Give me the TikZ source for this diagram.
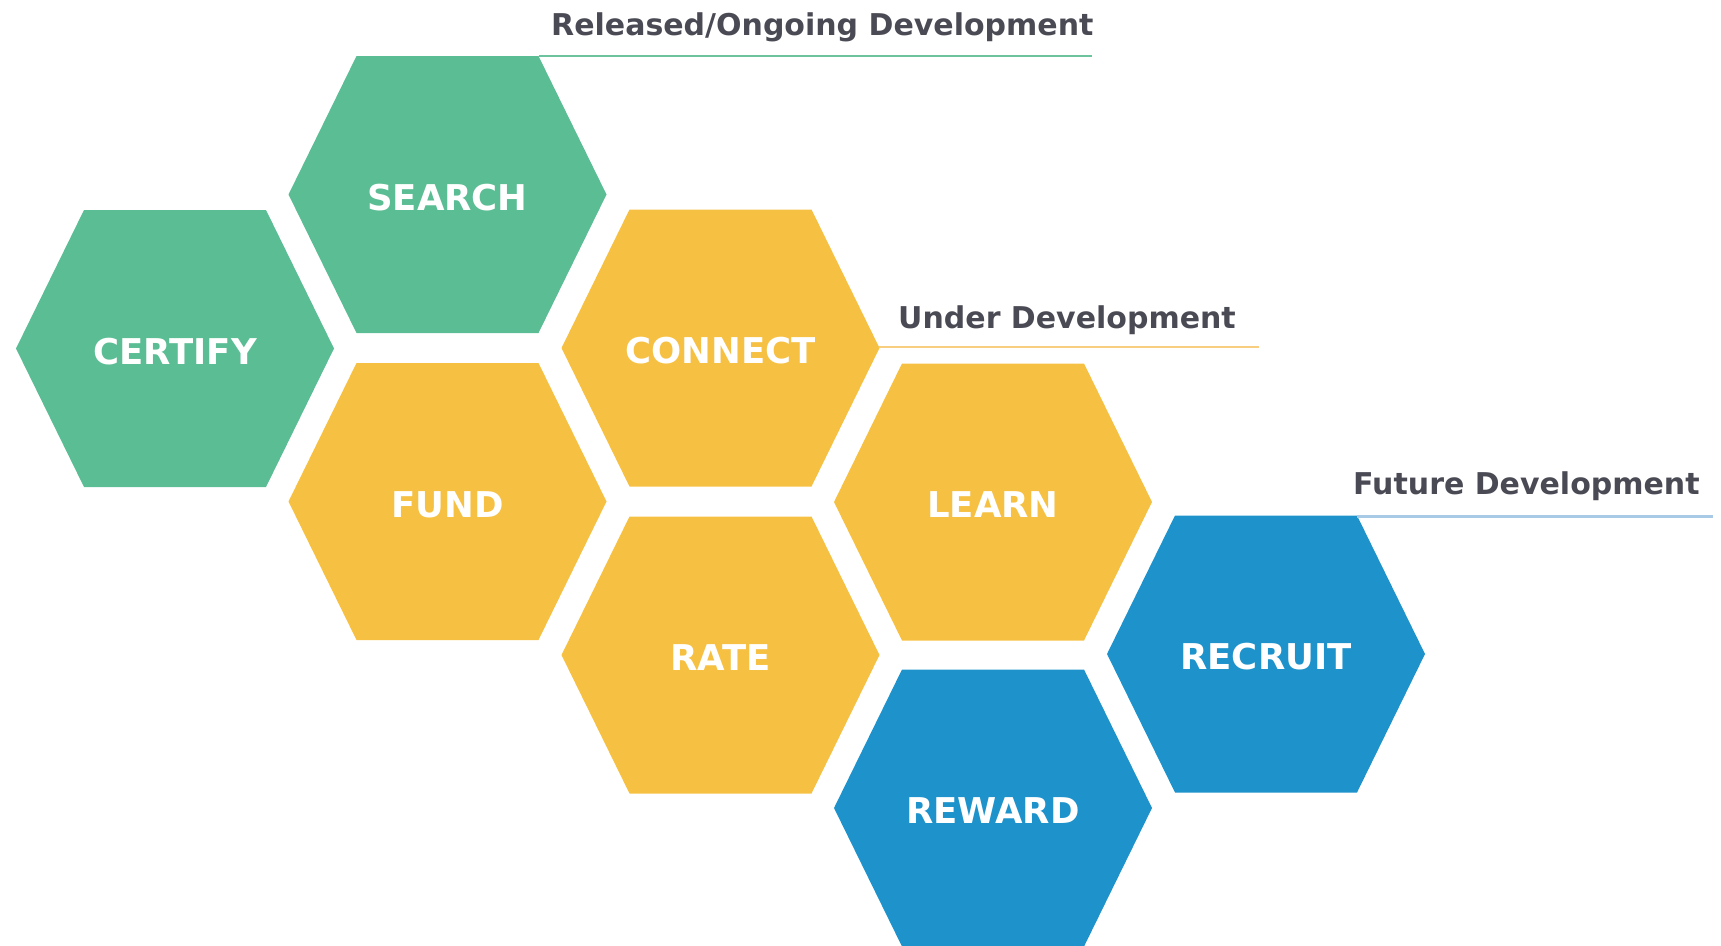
\documentclass[tikz,border=0pt]{standalone}
\usepackage{fontspec}
\setmainfont{DejaVu Sans}
\definecolor{hgreen}{HTML}{5BBD94}
\definecolor{hyellow}{HTML}{F6C142}
\definecolor{hblue}{HTML}{1D92CB}
\definecolor{lgreen}{HTML}{6CC39E}
\definecolor{lyellow}{HTML}{F8CF80}
\definecolor{lblue}{HTML}{A9CAE6}
\definecolor{htext}{HTML}{4A4A55}
\tikzset{
  hexlabel/.style={text=white,font=\bfseries\fontsize{35.5}{40}\selectfont,inner sep=0pt},
  headlabel/.style={text=htext,font=\bfseries\fontsize{30}{34}\selectfont,inner sep=0pt,anchor=base west},
}
\newcommand\hexcell[5]{%
  \fill[#4] (#2-159,#3) -- (#2-91,#3-138.5) -- (#2+91,#3-138.5) -- (#2+159,#3)
     -- (#2+91,#3+138.5) -- (#2-91,#3+138.5) -- cycle;
  \node[hexlabel] (#1) at (#2,#3+3) {#5};
}
\begin{document}
\begin{tikzpicture}[x=1pt,y=-1pt]
\useasboundingbox (0,0) rectangle (1721,945);
\clip (0,0) rectangle (1721,945);
\hexcell{certify}{175}{348.5}{hgreen}{CERTIFY}
\hexcell{search}{447.5}{194.5}{hgreen}{SEARCH}
\hexcell{fund}{447.5}{501.5}{hyellow}{FUND}
\hexcell{connect}{720.5}{348}{hyellow}{CONNECT}
\hexcell{rate}{720.5}{655}{hyellow}{RATE}
\hexcell{learn}{993}{502}{hyellow}{LEARN}
\hexcell{reward}{993}{808}{hblue}{REWARD}
\hexcell{recruit}{1266}{654}{hblue}{RECRUIT}
% headings
\node[headlabel] (rel) at (551,35) {Released/{}Ongoing Development};
\node[headlabel] (und) at (898,328) {Under Development};
\node[headlabel] (fut) at (1353,494) {Future Development};
\coordinate (rela) at (538.5,56);
\coordinate (relb) at (1092,56);
\coordinate (unda) at (879,347);
\coordinate (undb) at (1259,347);
\coordinate (futa) at (1357,516);
\coordinate (futb) at (1713,516);
\draw[lgreen,line width=2pt] (rela) -- (relb);
\draw[lyellow,line width=2pt] (unda) -- (undb);
\draw[lblue,line width=3pt] (futa) -- (futb);
\end{tikzpicture}
\end{document}
